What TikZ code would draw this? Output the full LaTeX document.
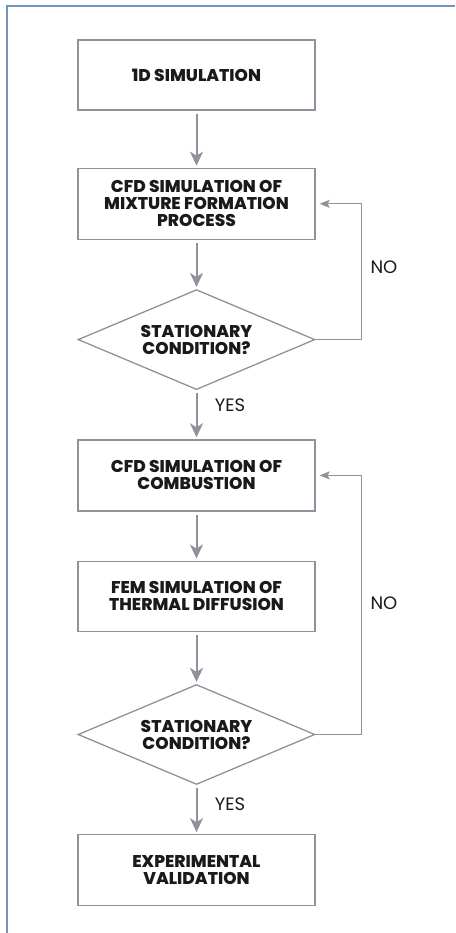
\documentclass[tikz,border=0pt]{standalone}
\usepackage{fontspec}
\usepackage{tikz}
\usetikzlibrary{arrows.meta, positioning, shapes.geometric}
\setmainfont{Poppins}[BoldFont={Poppins ExtraBold}]
\definecolor{framecol}{HTML}{6F95BD}
\definecolor{linecol}{HTML}{8E929B}
\definecolor{textcol}{HTML}{1A1A1A}

\begin{document}
\begin{tikzpicture}[
		stepbox/.style={
			draw=linecol,
			fill=white,
			line width=1.3pt,
			align=center,
			minimum width=237pt,
			minimum height=70pt,
			inner sep=0pt,
			text=textcol,
			font=\fontsize{17}{17}\selectfont\bfseries
		},
		testbox/.style={
			stepbox,
			diamond,
			shape aspect=2.37,
			minimum height=100pt
		},
		flow/.style={
			draw=linecol,
			line width=2pt,
			-{Stealth[length=14pt,width=13pt,inset=4pt]},
			shorten <=3pt,
			shorten >=2pt
		},
		back/.style={
			draw=linecol,
			line width=1.3pt,
			-{Stealth[length=10pt,width=8pt,inset=2pt]},
			shorten >=4pt
		},
		answer/.style={
			text=textcol,
			font=\fontsize{18}{18}\selectfont
		}
	]
		\useasboundingbox (0,0) rectangle (455pt,-933pt);
		\draw[framecol, line width=1.5pt] (7pt,-933pt) -- (7pt,-6pt) -- (455pt,-6pt);

		\node[stepbox] (sim) at (196.5pt,-75pt) {1D SIMULATION};
		\node[stepbox, minimum height=71pt, below=57pt of sim] (mix) {%
			CFD SIMULATION OF\\MIXTURE FORMATION\\PROCESS};
		\node[testbox, below=49pt of mix] (cond1) {STATIONARY\\CONDITION?};
		\node[stepbox, minimum height=71pt, below=49pt of cond1] (comb) {%
			CFD SIMULATION OF\\COMBUSTION};
		\node[stepbox, below=49pt of comb] (fem) {%
			FEM SIMULATION OF\\THERMAL DIFFUSION};
		\node[testbox, below=52pt of fem] (cond2) {STATIONARY\\CONDITION?};
		\node[stepbox, minimum height=71pt, below=49pt of cond2] (valid) {%
			EXPERIMENTAL\\VALIDATION};

		\draw[flow] (sim) -- (mix);
		\draw[flow] (mix) -- (cond1);
		\draw[flow] (cond1) -- node[answer, pos=0.3, right=14pt] (yes1) {YES} (comb);
		\draw[flow] (comb) -- (fem);
		\draw[flow] (fem) -- (cond2);
		\draw[flow] (cond2) -- node[answer, pos=0.38, right=14pt] (yes2) {YES} (valid);

		% loops back when not stationary
		\draw[back] (cond1.east) -- ++(46pt,0) |- (mix.east);
		\draw[back] (cond2.east) -- ++(46pt,0) |- (comb.east);
		\node[answer, anchor=west] (no1) at (367pt,-267pt) {NO};
		\node[answer, anchor=west] (no2) at (367pt,-603pt) {NO};
	\end{tikzpicture}
\end{document}
